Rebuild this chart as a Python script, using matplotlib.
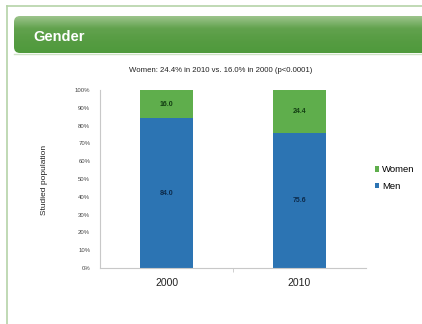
import matplotlib.pyplot as plt
import numpy as np
from matplotlib.patches import FancyBboxPatch
from matplotlib.lines import Line2D
from matplotlib.colors import LinearSegmentedColormap

# Dados: composição por sexo da população estudada
anos = ['2000', '2010']
homens = [84.0, 75.6]
mulheres = [16.0, 24.4]
rotulos_y = ['0%', '10%', '20%', '30%', '40%', '50%', '60%', '70%', '80%', '90%', '100%']

cor_homens = '#2c74b3'
cor_mulheres = '#5fae4c'

fig = plt.figure(figsize=(4.22, 3.24), dpi=100)
fig.patch.set_facecolor('white')

# Moldura verde clara (esquerda e topo)
fig.add_artist(Line2D([7/422, 7/422], [0, 1 - 6/324], transform=fig.transFigure,
                      color='#b5d3a8', lw=1.2))
fig.add_artist(Line2D([7/422, 1], [1 - 6/324, 1 - 6/324], transform=fig.transFigure,
                      color='#b5d3a8', lw=1.2))

# Faixa do título com gradiente
ax_h = fig.add_axes([0, 0, 1, 1], zorder=0)
ax_h.set_xlim(0, 422)
ax_h.set_ylim(324, 0)
ax_h.axis('off')
faixa = FancyBboxPatch((14, 16), 420, 37, boxstyle='round,pad=0,rounding_size=6',
                       facecolor='none', edgecolor='none')
ax_h.add_patch(faixa)
grad = np.linspace(0, 1, 64).reshape(-1, 1)
cmap = LinearSegmentedColormap.from_list('g', ['#9cc48c', '#62a24e', '#569c42', '#4f9a3c'])
img = ax_h.imshow(grad, cmap=cmap, extent=(14, 434, 53, 16), aspect='auto')
img.set_clip_path(faixa)
ax_h.plot([14, 422], [53.5, 53.5], color='#cfe3c6', lw=1)
ax_h.text(33, 37, 'Gender', color='white', fontsize=10.5, fontweight='bold',
          va='center', ha='left', family='Liberation Sans')
ax_h.text(221, 70, 'Women: 24.4% in 2010 vs. 16.0% in 2000 (p<0.0001)',
          fontsize=5.6, ha='center', va='center', color='#222222', family='Liberation Sans')

# Gráfico de barras empilhadas
ax = fig.add_axes([100/422, 1 - 268/324, 266/422, 178/324], zorder=1)
ax.patch.set_alpha(0)
x = np.arange(len(anos))
largura = 0.4
b1 = ax.bar(x, homens, largura, color=cor_homens, label='Men')
b2 = ax.bar(x, mulheres, largura, bottom=homens, color=cor_mulheres, label='Women')

for i in range(len(anos)):
    ax.text(x[i], homens[i] / 2, f'{homens[i]:.1f}', ha='center', va='center',
            fontsize=5, color='#0c2a4a', family='Liberation Sans', fontweight='bold')
    ax.text(x[i], homens[i] + mulheres[i] / 2, f'{mulheres[i]:.1f}', ha='center',
            va='center', fontsize=5, color='#123d12', family='Liberation Sans',
            fontweight='bold')

ax.set_xlim(-0.5, 1.5)
ax.set_ylim(0, 100)
ax.set_yticks(np.arange(0, 101, 10))
ax.set_yticklabels(rotulos_y, fontsize=4.3, color='#444444', family='Liberation Sans')
ax.set_xticks(x)
ax.set_xticklabels(anos, fontsize=7.5, color='#222222', family='Liberation Sans')
ax.set_xticks([0.5], minor=True)
ax.tick_params(axis='x', which='major', length=0, pad=7)
ax.tick_params(axis='x', which='minor', length=3, color='#c8c8c8', direction='out')
ax.tick_params(axis='y', length=0, pad=7)
for s in ['top', 'right']:
    ax.spines[s].set_visible(False)
ax.spines['left'].set_color('#c8c8c8')
ax.spines['bottom'].set_color('#c8c8c8')
ax.spines['left'].set_linewidth(0.8)
ax.spines['bottom'].set_linewidth(0.8)

fig.text(45/422, 1 - 180/324, 'Studied population', rotation=90, fontsize=6,
         ha='center', va='center', color='#222222', family='Liberation Sans')

# Legenda
leg = ax.legend([b2, b1], ['Women', 'Men'], loc='center left',
                bbox_to_anchor=(366/422, 1 - 178/324), bbox_transform=fig.transFigure,
                frameon=False, handlelength=0.5, handleheight=0.5,
                handletextpad=0.3, labelspacing=0.8,
                prop={'family': 'Liberation Sans', 'size': 6.8})

fig.savefig('out.png', dpi=100)
